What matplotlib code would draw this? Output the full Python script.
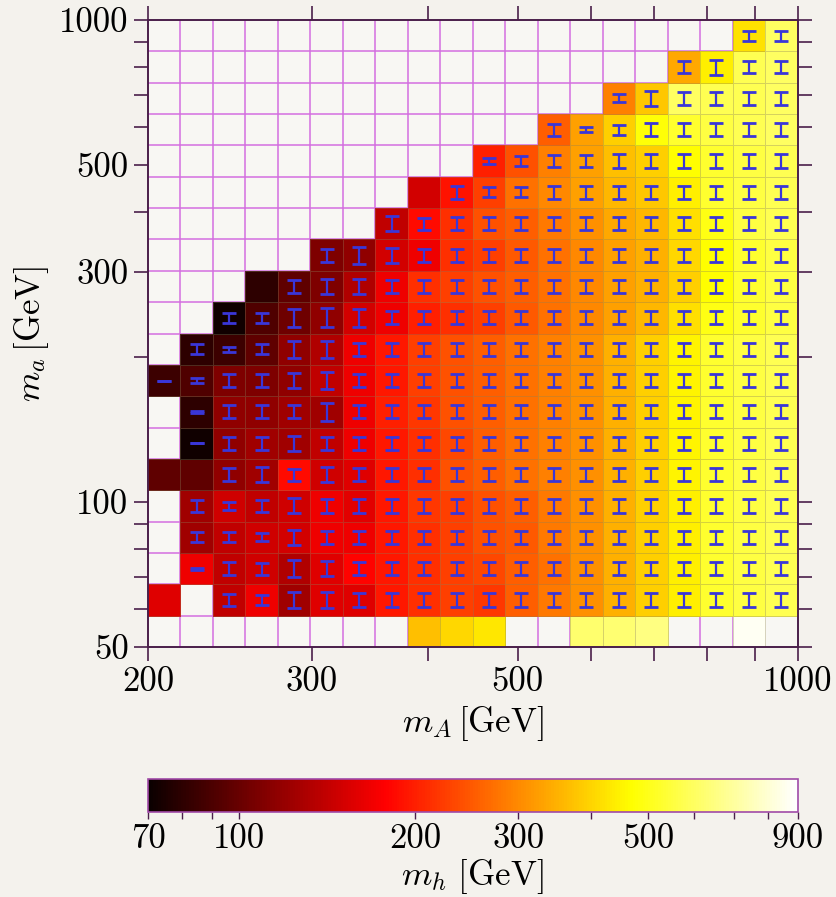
import numpy as np
import matplotlib
matplotlib.use("Agg")
import matplotlib.pyplot as plt
from matplotlib.colors import LogNorm
from matplotlib.ticker import NullFormatter

plt.rcParams.update({
    "font.family": "serif",
    "font.serif": ["cmr10", "DejaVu Serif"],
    "mathtext.fontset": "cm",
    "axes.formatter.use_mathtext": True,
    "font.size": 25,
})

# scan binning: 20 x 20 log-spaced cells
mA_edges = np.geomspace(200, 1000, 21)
ma_edges = np.geomspace(50, 1000, 21)

N = None
# fitted m_h [GeV] per cell, rows from lowest m_a upward, columns along m_A
MH_ROWS = [
    [N, N, N, N, N, N, N, N, 369, 404, 429, N, N, 620, 626, 651, N, N, 865, N],
    [158, N, 140, 168, 124, 158, 158, 195, 213, 227, 220, 256, 281, 307, 347, 392, 439, 530, 554, 577],
    [N, 168, 140, 148, 132, 158, 180, 195, 213, 227, 234, 256, 272, 307, 347, 392, 439, 530, 554, 577],
    [N, 124, 140, 148, 150, 168, 168, 195, 213, 227, 242, 249, 281, 307, 347, 392, 443, 530, 554, 577],
    [N, 124, 148, 140, 148, 168, 160, 195, 220, 227, 242, 256, 281, 307, 347, 392, 443, 530, 554, 577],
    [97, 97, 117, 124, 185, 148, 158, 195, 213, 242, 256, 272, 289, 307, 347, 392, 450, 530, 554, 577],
    [N, 72, 117, 124, 124, 140, 168, 195, 213, 234, 256, 272, 289, 307, 347, 392, 450, 530, 554, 577],
    [N, 80, 117, 117, 124, 124, 168, 200, 220, 242, 256, 272, 289, 307, 347, 392, 450, 530, 554, 577],
    [85, 91, 109, 109, 117, 140, 168, 195, 227, 242, 256, 272, 289, 307, 347, 392, 450, 530, 554, 577],
    [N, 80, 85, 97, 117, 132, 168, 195, 227, 242, 256, 272, 289, 307, 347, 392, 450, 530, 554, 577],
    [N, N, 72, 91, 103, 117, 150, 168, 200, 213, 227, 249, 272, 298, 326, 358, 416, 490, 530, 554],
    [N, N, N, 80, 97, 109, 132, 168, 213, 227, 242, 256, 272, 298, 326, 347, 392, 470, 530, 554],
    [N, N, N, N, N, 109, 117, 150, 168, 213, 227, 249, 272, 298, 326, 347, 404, 470, 530, 554],
    [N, N, N, N, N, N, N, 140, 185, 213, 242, 256, 281, 307, 336, 358, 416, 490, 554, 577],
    [N, N, N, N, N, N, N, N, 150, 190, 227, 272, 298, 326, 358, 380, 439, 530, 554, 577],
    [N, N, N, N, N, N, N, N, N, N, 200, 242, 289, 326, 369, 392, 470, 530, 554, 577],
    [N, N, N, N, N, N, N, N, N, N, N, N, 256, 326, 392, 480, 530, 554, 577, 601],
    [N, N, N, N, N, N, N, N, N, N, N, N, N, N, 289, 380, 601, 577, 577, 601],
    [N, N, N, N, N, N, N, N, N, N, N, N, N, N, N, N, 336, 439, 577, 601],
    [N, N, N, N, N, N, N, N, N, N, N, N, N, N, N, N, N, N, 420, 601],
]

# half-length of the uncertainty bar, in units of one cell height
ERR_DEFAULT = 0.21
ERR_CELLS = {
    (1, 2): 0.19, (1, 3): 0.16, (1, 4): 0.27, (1, 5): 0.24,
    (2, 1): 0.03, (2, 2): 0.20, (2, 3): 0.19, (2, 4): 0.27, (2, 5): 0.24,
    (3, 1): 0.16, (3, 2): 0.16, (3, 3): 0.13, (3, 4): 0.24,
    (4, 1): 0.19, (4, 2): 0.13, (4, 3): 0.19, (4, 4): 0.24,
    (5, 3): 0.24, (5, 4): 0.19, (5, 5): 0.24,
    (6, 1): 0.0, (6, 4): 0.24,
    (7, 1): 0.03, (7, 5): 0.29,
    (8, 0): 0.0, (8, 1): 0.08, (8, 4): 0.24, (8, 5): 0.27,
    (9, 1): 0.16, (9, 2): 0.08, (9, 3): 0.16, (9, 4): 0.27, (9, 5): 0.27,
    (10, 2): 0.16, (10, 3): 0.16, (10, 4): 0.29, (10, 5): 0.30, (10, 6): 0.29,
    (11, 5): 0.24, (11, 6): 0.24,
    (12, 6): 0.27, (12, 7): 0.24,
    (13, 7): 0.24, (13, 8): 0.19,
    (14, 10): 0.16, (14, 11): 0.16,
    (15, 10): 0.09, (15, 11): 0.16, (15, 12): 0.19, (15, 13): 0.19,
    (16, 12): 0.19, (16, 13): 0.08, (16, 14): 0.16,
    (17, 14): 0.13, (17, 15): 0.24,
    (18, 16): 0.19, (18, 17): 0.24, (18, 18): 0.19, (18, 19): 0.19,
    (19, 18): 0.16, (19, 19): 0.16,
}
# filled cells that carry no bar (whole bottom row included)
NO_BAR = [(1, 0), (5, 0), (5, 1), (11, 3), (14, 8)]

x_major = [200, 300, 500, 1000]
x_minor = [400, 600, 700, 800, 900]
y_major = [50, 100, 300, 500, 1000]
y_minor = [60, 70, 80, 90, 200, 400, 600, 700, 800, 900]
cb_major = [70, 100, 200, 300, 500, 900]
cb_minor = [80, 90, 400, 600, 700, 800]

BG = "#f4f2ed"
SPINE = "#4a1f4a"
GRID = "#d46ee0"
BAR = "#3a36d8"

mh = np.array(MH_ROWS, dtype=float)
mask = np.isnan(mh)

fig = plt.figure(figsize=(8.36, 8.97), dpi=100, facecolor=BG)
ax = fig.add_axes([0.177, 0.2787, 0.777, 0.699])
ax.set_facecolor("#f8f7f3")
ax.set_xscale("log")
ax.set_yscale("log")

# magenta cell grid underneath
ax.vlines(mA_edges[1:-1], 50, 1000, color=GRID, lw=1.1, zorder=1)
ax.hlines(ma_edges[1:-1], 200, 1000, color=GRID, lw=1.1, zorder=1)

cmap = plt.get_cmap("hot").copy()
cmap.set_bad((0, 0, 0, 0))
norm = LogNorm(vmin=70, vmax=900)
mesh = ax.pcolormesh(mA_edges, ma_edges, np.ma.masked_invalid(mh),
                     cmap=cmap, norm=norm, linewidth=0.6, zorder=2)
edge = np.zeros((mask.size, 4))
edge[~mask.ravel()] = (0.55, 0.5, 0.35, 0.35)
mesh.set_edgecolor(edge)

# per-cell uncertainty bars
xc = np.sqrt(mA_edges[:-1] * mA_edges[1:])
yc = np.sqrt(ma_edges[:-1] * ma_edges[1:])
dlog = np.log10(ma_edges[1] / ma_edges[0])
bx, by, lo, hi = [], [], [], []
for j in range(1, mh.shape[0]):
    for i in range(mh.shape[1]):
        if mask[j, i] or (j, i) in NO_BAR:
            continue
        h = ERR_CELLS.get((j, i), ERR_DEFAULT) * dlog
        bx.append(xc[i])
        by.append(yc[j])
        lo.append(yc[j] * (1 - 10 ** (-h)))
        hi.append(yc[j] * (10 ** h - 1))
ax.errorbar(bx, by, yerr=[lo, hi], fmt="none", ecolor=BAR,
            elinewidth=1.6, capsize=5, capthick=2.0, zorder=3)

ax.set_xlim(200, 1000)
ax.set_ylim(50, 1000)
ax.set_xticks(x_major, [str(v) for v in x_major])
ax.set_xticks(x_minor, minor=True)
ax.set_yticks(y_major, [str(v) for v in y_major])
ax.set_yticks(y_minor, minor=True)
ax.xaxis.set_minor_formatter(NullFormatter())
ax.yaxis.set_minor_formatter(NullFormatter())
ax.tick_params(which="both", direction="out", length=10, width=1.2,
               color=SPINE, top=True, right=True, pad=4)
for s in ax.spines.values():
    s.set_color(SPINE)
    s.set_linewidth(1.4)
    s.set_zorder(4)

ax.set_xlabel(r"$m_A\,[\mathrm{GeV}]$", labelpad=4)
ax.set_ylabel(r"$m_a\,[\mathrm{GeV}]$", labelpad=6)

cax = fig.add_axes([0.177, 0.0948, 0.777, 0.0368])
cb = fig.colorbar(mesh, cax=cax, orientation="horizontal")
cb.set_ticks(cb_major, labels=[str(v) for v in cb_major])
cb.ax.xaxis.set_minor_locator(plt.FixedLocator(cb_minor))
cb.ax.xaxis.set_minor_formatter(NullFormatter())
cb.ax.tick_params(which="both", direction="out", length=5, width=1.0,
                  color=SPINE, pad=3)
cb.outline.set_edgecolor("#a04aa8")
cb.outline.set_linewidth(1.2)
cb.set_label(r"$m_h\ [\mathrm{GeV}]$", labelpad=2)

fig.savefig("out.png", dpi=100, facecolor=BG)
